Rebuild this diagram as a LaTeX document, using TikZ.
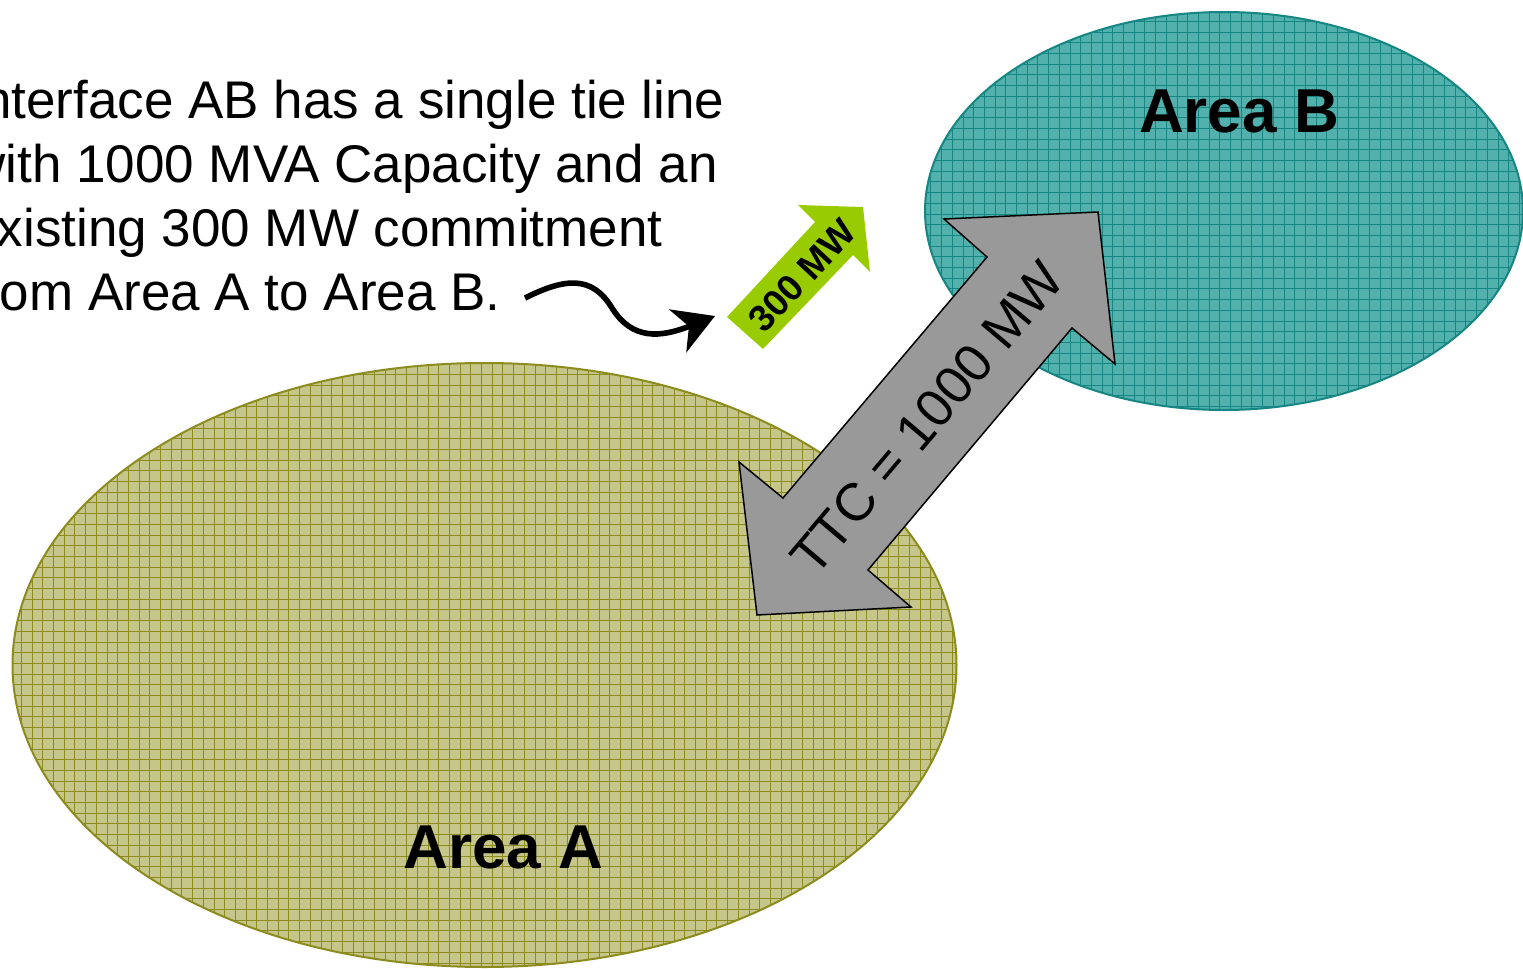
\documentclass[tikz,border=0pt]{standalone}
\usepackage{fontspec}
\setmainfont{Liberation Sans}
\usetikzlibrary{arrows.meta}

\definecolor{areaA}{HTML}{C6C68A}
\definecolor{areaAline}{HTML}{8C8C1E}
\definecolor{areaB}{HTML}{52B0AD}
\definecolor{areaBline}{HTML}{168683}
\definecolor{flow}{HTML}{99CC00}
\definecolor{tie}{HTML}{999999}

\begin{document}
\begin{tikzpicture}[x=0.5pt,y=-0.5pt,
	hatch/.style={line width=0.5pt,step=5.35pt},
	label/.style={font=\bfseries\fontsize{31}{36}\selectfont,anchor=base}]

\useasboundingbox (0,0) rectangle (1523,969);
\clip (0,0) rectangle (1523,969);

% the two areas
\fill[areaA] (484.5,665) ellipse [x radius=472,y radius=302];
\begin{scope}
	\clip (484.5,665) ellipse [x radius=472,y radius=302];
	\draw[areaAline,hatch] (0,350) grid (970,980);
\end{scope}
\draw[areaAline,line width=1pt] (484.5,665) ellipse [x radius=472,y radius=302];

\fill[areaB] (1224,211) ellipse [x radius=299,y radius=199];
\begin{scope}
	\clip (1224,211) ellipse [x radius=299,y radius=199];
	\draw[areaBline,hatch] (920,0) grid (1530,420);
\end{scope}
\draw[areaBline,line width=1pt] (1224,211) ellipse [x radius=299,y radius=199];

\node[label] (areaA) at (503.5,868) {Area A};
\node[label] (areaB) at (1239,132) {Area B};

\begin{scope}
	% tie line arrow
	\coordinate (t0) at (1098,212);
	\coordinate (t1) at (1115,364);
	\coordinate (t2) at (1072,328);
	\coordinate (t3) at (868,570);
	\coordinate (t4) at (911,607);
	\coordinate (t5) at (757,615);
	\coordinate (t6) at (739,462);
	\coordinate (t7) at (783,498);
	\coordinate (t8) at (987,257);
	\coordinate (t9) at (944,219);
	%
	% commitment arrow
	\coordinate (g0) at (863,207);
	\coordinate (g1) at (870,272);
	\coordinate (g2) at (853,255);
	\coordinate (g3) at (763,349);
	\coordinate (g4) at (727,317);
	\coordinate (g5) at (815,222);
	\coordinate (g6) at (798,205);
	%
	\coordinate (c0) at (525,298);
	\coordinate (c1) at (715,316);
\end{scope}

\draw[fill=tie,line width=0.75pt]
	(t0) -- (t1) -- (t2) -- (t3) -- (t4) -- (t5) -- (t6) -- (t7) -- (t8) -- (t9) -- cycle;
\node[rotate=49.8,font=\fontsize{26.5}{30}\selectfont] (ttc) at (927,418) {TTC = 1000 MW};

\fill[flow] (g0) -- (g1) -- (g2) -- (g3) -- (g4) -- (g5) -- (g6) -- cycle;
\node[rotate=46.9,font=\bfseries\fontsize{18.5}{20}\selectfont] (commit) at (802,276) {300 MW};

% note and its pointer (base is the last line)
\node[anchor=base west,align=left,inner sep=0pt,font=\fontsize{26.5}{32}\selectfont] (note) at (-33,310)
	{Interface AB has a single tie line\\with 1000 MVA Capacity and an\\existing 300 MW commitment\\from Area A to Area B.};

\draw[line width=2.8pt,-{Stealth[length=20pt,width=23pt,inset=6pt]}]
	(c0) .. controls (565,278) and (592,275) .. (612,308)
	.. controls (632,340) and (660,338) .. (c1);

\end{tikzpicture}
\end{document}
